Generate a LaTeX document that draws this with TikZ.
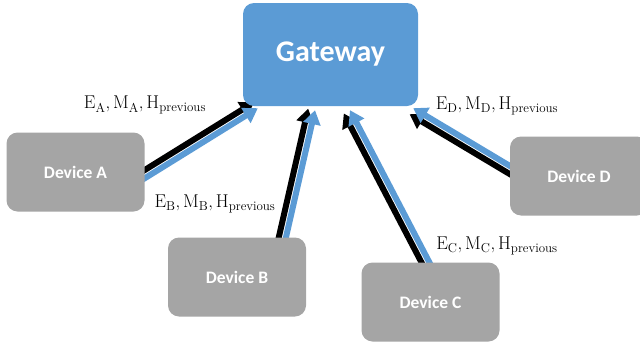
\documentclass[tikz,border=0pt]{standalone}
\usepackage{fontspec}
\setsansfont{Carlito}
\usetikzlibrary{arrows.meta,calc,backgrounds}

\definecolor{gwblue}{HTML}{5B9BD5}
\definecolor{devgray}{HTML}{A5A5A5}

\tikzset{
  box/.style={rounded corners=11pt, text=white, inner sep=0pt},
  gateway/.style={box, fill=gwblue, minimum width=175pt, minimum height=103pt,
    font=\sffamily\bfseries\fontsize{30}{34}\selectfont},
  device/.style={box, fill=devgray, minimum width=138pt, minimum height=79pt,
    font=\sffamily\bfseries\fontsize{17.5}{20}\selectfont},
  msg/.style={font=\fontsize{18.5}{22}\selectfont, inner sep=0pt},
  send/.style={line width=6pt, draw=gwblue, -{Triangle[length=14pt,width=17pt]}},
  shade/.style={send, draw=black, fill=black}
}

\begin{document}
\begin{tikzpicture}[x=1pt,y=-1pt]
\useasboundingbox (0,0) rectangle (640,343);
\clip (0,0) rectangle (640,343);

\node[gateway] (GW) at (330.5,54.5) {Gateway};
\begin{scope}[every node/.style={device}]
    \node (A) at (75.5,172) {Device A};
    \node (B) at (237,277) {Device B};
    \node (C) at (430.5,302) {Device C};
    \node (D) at (579,176) {Device D};
\end{scope}

% message labels
\begin{scope}[every node/.style={msg}]
    \node (la) at (145,105) {$\mathrm{E_A, M_A, H_{previous}}$};
    \node (lb) at (215,204) {$\mathrm{E_B, M_B, H_{previous}}$};
    \node (lc) at (497,246) {$\mathrm{E_C, M_C, H_{previous}}$};
    \node (ld) at (497,106) {$\mathrm{E_D, M_D, H_{previous}}$};
\end{scope}

% tails inside the devices, tips at the gateway
\coordinate (a1) at ($(A.east)+(-6,10)$);
\coordinate (a2) at ($(GW.south west)+(15,2)$);
\coordinate (b1) at ($(B.north)+(46,13)$);
\coordinate (b2) at ($(GW.south)+(-15.5,4)$);
\coordinate (c1) at ($(C.north)+(3,8)$);
\coordinate (c2) at ($(GW.south)+(19.5,4)$);
\coordinate (d1) at ($(D.west)+(8.5,-5)$);
\coordinate (d2) at ($(GW.south east)+(-5,2)$);

\begin{scope}[on background layer]
    \foreach \s/\t in {a1/a2,b1/b2,c1/c2,d1/d2} {
        \draw[shade] ($(\s)!7pt!90:(\t)$) -- ($(\t)!7pt!-90:(\s)$);
        \draw[send] (\s) -- (\t);
    }
\end{scope}
\end{tikzpicture}
\end{document}
